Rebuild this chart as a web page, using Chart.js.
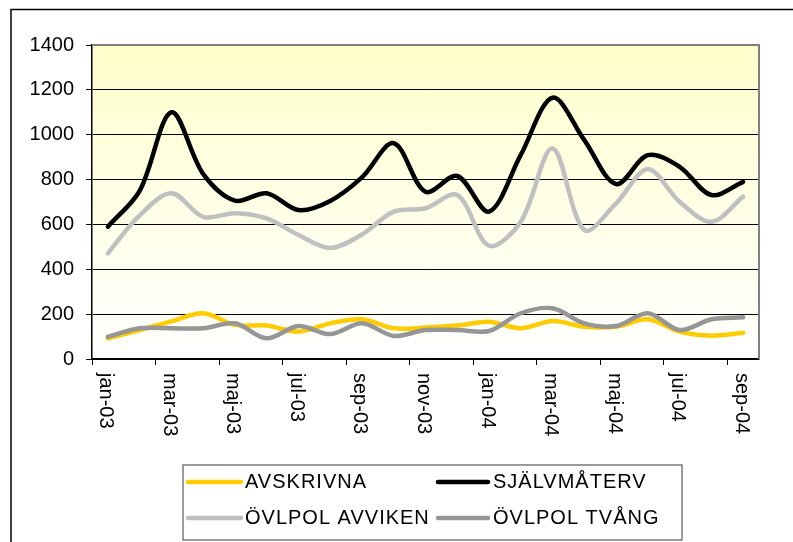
<!DOCTYPE html>
<html>
<head>
    <title>Ärenden per månad</title>
    <script src="https://cdn.jsdelivr.net/npm/chart.js"></script>
    <style>
        body { margin: 0; background: #fff; }
    </style>
</head>
<body>
    <canvas id="myChart" width="793" height="542"></canvas>

    <script>
        // monthly categories, every other one is labelled on the axis
        const months = ['jan-03', 'feb-03', 'mar-03', 'apr-03', 'maj-03', 'jun-03', 'jul-03',
            'aug-03', 'sep-03', 'okt-03', 'nov-03', 'dec-03', 'jan-04', 'feb-04', 'mar-04',
            'apr-04', 'maj-04', 'jun-04', 'jul-04', 'aug-04', 'sep-04'];

        const avskrivna = [92, 129, 168, 204, 152, 149, 122, 159, 177, 137, 140, 149, 166, 137, 169, 144, 144, 177, 122, 104, 117];
        const sjalvmaterv = [590, 750, 1100, 825, 706, 739, 664, 705, 810, 962, 746, 816, 657, 910, 1165, 976, 780, 909, 857, 731, 790];
        const ovlpolAvviken = [471, 640, 739, 634, 650, 627, 553, 495, 555, 657, 672, 731, 505, 612, 939, 575, 694, 846, 701, 612, 724];
        const ovlpolTvang = [99, 137, 137, 137, 159, 92, 147, 111, 159, 103, 129, 129, 125, 204, 226, 159, 147, 204, 129, 177, 186];

        const yTicks = [0, 200, 400, 600, 800, 1000, 1200, 1400];

        const FONT = '"Liberation Sans", Arial, sans-serif';

        const decorations = {
            id: 'decorations',
            beforeDraw(chart) {
                const { ctx, chartArea: a } = chart;
                ctx.save();
                const g = ctx.createLinearGradient(0, a.top, 0, a.bottom);
                g.addColorStop(0, '#ffffcc');
                g.addColorStop(1, '#ffffff');
                ctx.fillStyle = g;
                ctx.fillRect(a.left, a.top, a.right - a.left, a.bottom - a.top);

                // outer frame (runs off the right and bottom edges)
                ctx.strokeStyle = '#000';
                ctx.lineWidth = 1.5;
                ctx.beginPath();
                ctx.moveTo(11, 542);
                ctx.lineTo(11, 9.5);
                ctx.lineTo(793, 9.5);
                ctx.stroke();
                ctx.restore();
            },
            afterDraw(chart) {
                const { ctx, chartArea: a } = chart;
                const x = chart.scales.x;
                ctx.save();

                // top and right edge of the plot area
                ctx.strokeStyle = '#808080';
                ctx.lineWidth = 2;
                ctx.beginPath();
                ctx.moveTo(a.left, a.top);
                ctx.lineTo(a.right, a.top);
                ctx.lineTo(a.right, a.bottom);
                ctx.stroke();

                // x labels, rotated to read downwards
                ctx.font = '20px ' + FONT;
                ctx.fillStyle = '#000';
                ctx.textAlign = 'left';
                ctx.textBaseline = 'middle';
                months.forEach((m, i) => {
                    if (i % 2) return;
                    ctx.save();
                    ctx.translate(x.getPixelForValue(i) - 2, a.bottom + 14);
                    ctx.rotate(Math.PI / 2);
                    ctx.fillText(m, 0, 0);
                    ctx.restore();
                });

                // legend box, two columns
                ctx.strokeStyle = '#666';
                ctx.lineWidth = 1.3;
                ctx.strokeRect(183, 465, 499, 75);
                ctx.letterSpacing = '1px';
                const cols = [[188, 241, 245], [438, 488, 493]];
                const rows = [482, 518];
                chart.data.datasets.forEach((ds, i) => {
                    const c = cols[i % 2];
                    const y = rows[Math.floor(i / 2)];
                    ctx.strokeStyle = ds.borderColor;
                    ctx.lineWidth = 4.5;
                    ctx.lineCap = 'round';
                    ctx.beginPath();
                    ctx.moveTo(c[0], y);
                    ctx.lineTo(c[1], y);
                    ctx.stroke();
                    ctx.fillStyle = '#000';
                    ctx.fillText(ds.label, c[2], y);
                });
                ctx.restore();
            }
        };

        const ctx = document.getElementById('myChart').getContext('2d');

        new Chart(ctx, {
            type: 'line',
            data: {
                labels: months,
                datasets: [
                    { label: 'AVSKRIVNA', data: avskrivna, borderColor: '#ffcc00', order: 4 },
                    { label: 'SJÄLVMÅTERV', data: sjalvmaterv, borderColor: '#000000', order: 3 },
                    { label: 'ÖVLPOL AVVIKEN', data: ovlpolAvviken, borderColor: '#c0c0c0', order: 2 },
                    { label: 'ÖVLPOL TVÅNG', data: ovlpolTvang, borderColor: '#969696', order: 1 }
                ]
            },
            options: {
                responsive: false,
                animation: false,
                devicePixelRatio: 1,
                layout: { padding: { left: 0, top: 45, right: 34, bottom: 0 } },
                elements: {
                    line: { borderWidth: 4.5, tension: 0.33, fill: false, borderCapStyle: 'round', borderJoinStyle: 'round' },
                    point: { radius: 0 }
                },
                plugins: {
                    legend: { display: false },
                    tooltip: { enabled: false }
                },
                scales: {
                    x: {
                        offset: true,
                        afterFit(scale) { scale.height = 542 - 359; },
                        grid: {
                            offset: true,
                            drawOnChartArea: false,
                            tickLength: 6,
                            color: c => (c.index % 2 === 0 ? '#000' : 'rgba(0,0,0,0)')
                        },
                        border: { color: '#000', width: 1.5 },
                        ticks: { display: false, autoSkip: false }
                    },
                    y: {
                        min: 0,
                        max: 1400,
                        afterFit(scale) { scale.width = 92; },
                        afterBuildTicks(scale) { scale.ticks = yTicks.map(v => ({ value: v })); },
                        grid: { color: '#000', lineWidth: 1, tickLength: 6 },
                        border: { color: '#000', width: 1.5 },
                        ticks: {
                            padding: 12,
                            color: '#000',
                            font: { family: FONT, size: 20 },
                            callback: v => String(v)
                        }
                    }
                }
            },
            plugins: [decorations]
        });
    </script>
</body>
</html>
